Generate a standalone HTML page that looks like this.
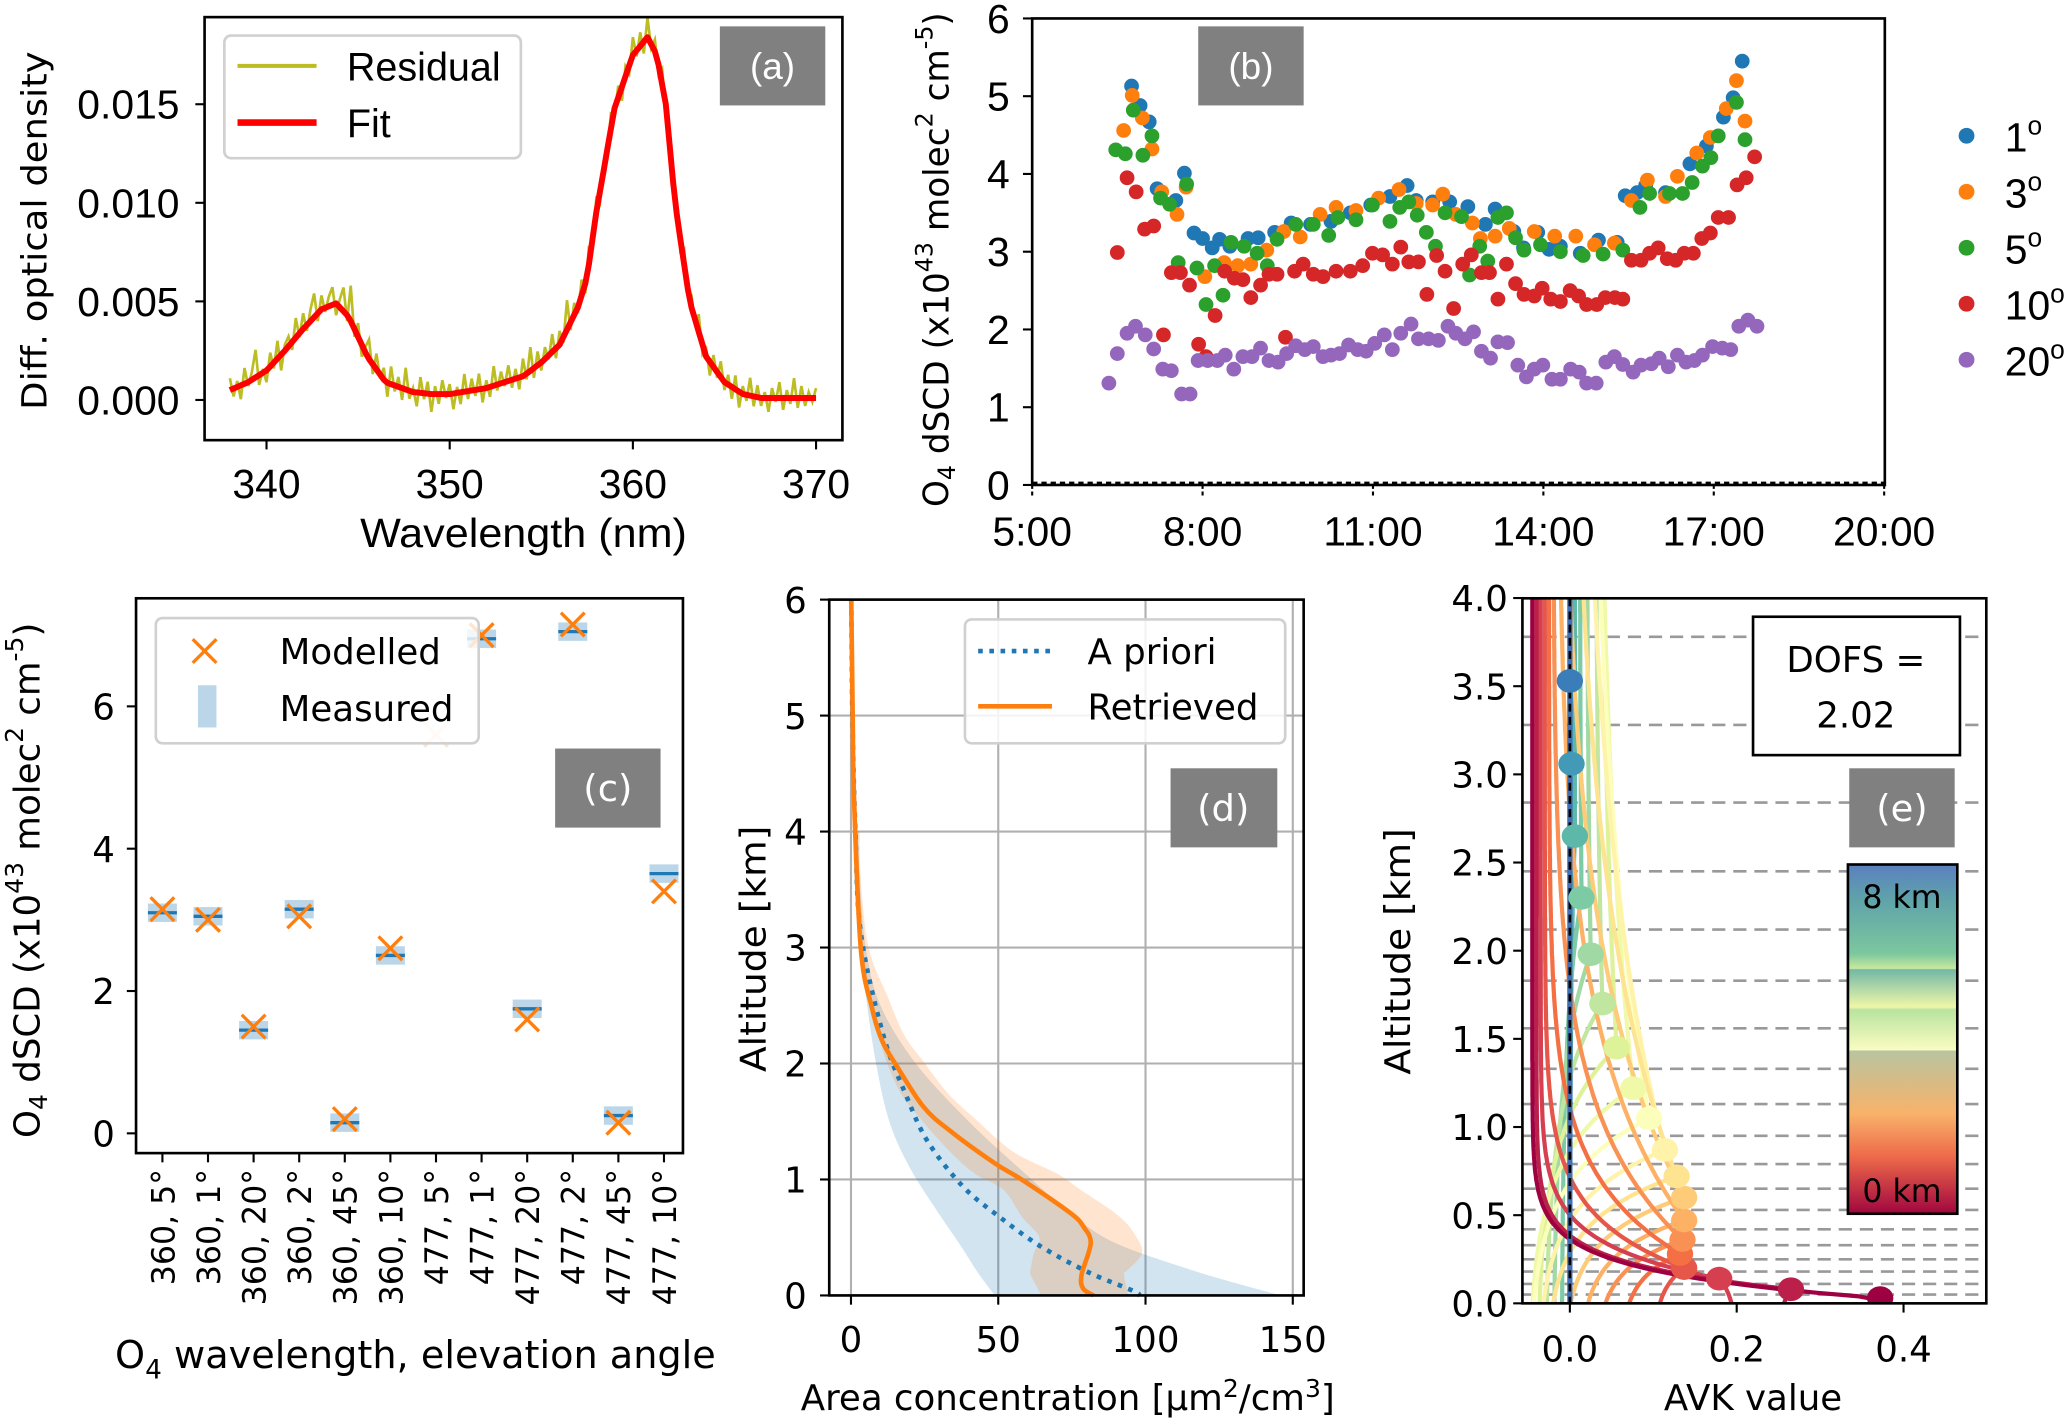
<!DOCTYPE html>
<html><head><meta charset="utf-8">
<style>
html,body{margin:0;padding:0;background:#fff;}
svg{display:block;}
text{font-family:"DejaVu Sans",sans-serif;fill:#000;}
.n{font-family:"Liberation Sans",sans-serif;}
.lab{fill:#fff;font-size:28px;}
</style></head>
<body>
<svg id="fig" width="2067" height="1418" viewBox="0 0 1568 1076" xmlns="http://www.w3.org/2000/svg">
<rect x="0" y="0" width="1568" height="1076" fill="#fff"/>

<!-- Panel A -->
<g id="pa">
  <g id="pa-data"></g>
  <rect x="155" y="13" width="484" height="321" fill="none" stroke="#000" stroke-width="2"/>
  <g id="pa-ticks"></g>
  <text x="28" y="175" transform="rotate(-90 28 175)" text-anchor="middle" dominant-baseline="middle" font-size="26" textLength="272" lengthAdjust="spacingAndGlyphs">Diff. optical density</text>
  <text class="n" x="397" y="415" text-anchor="middle" font-size="31" textLength="248" lengthAdjust="spacingAndGlyphs">Wavelength (nm)</text>
  <g>
    <rect x="170" y="27" width="225" height="93" rx="5" fill="#fff" stroke="#d0d0d0" stroke-width="2"/>
    <line x1="180" y1="50" x2="240" y2="50" stroke="#bcbd22" stroke-width="3"/>
    <text class="n" x="263" y="61" font-size="30">Residual</text>
    <line x1="180" y1="93" x2="240" y2="93" stroke="#ff0000" stroke-width="5"/>
    <text class="n" x="263" y="104" font-size="30">Fit</text>
  </g>
  <rect x="546" y="20" width="80" height="60" fill="#808080"/>
  <text class="lab n" x="586" y="60" text-anchor="middle">(a)</text>
</g>

<!-- Panel B -->
<g id="pb">
  <g id="pb-data"></g>
  <rect x="783" y="14" width="647" height="354" fill="none" stroke="#000" stroke-width="2"/>
  <g id="pb-ticks"></g>
  <text transform="translate(712 197) rotate(-90)" text-anchor="middle" dominant-baseline="middle" font-size="26">O<tspan font-size="18" dy="7">4</tspan><tspan dy="-7"> dSCD (x10</tspan><tspan font-size="18" dy="-10">43</tspan><tspan dy="10"> molec</tspan><tspan font-size="18" dy="-10">2</tspan><tspan dy="10"> cm</tspan><tspan font-size="18" dy="-10">-5</tspan><tspan dy="10">)</tspan></text>
  <rect x="909" y="20" width="80" height="60" fill="#808080"/>
  <text class="lab n" x="949" y="60" text-anchor="middle">(b)</text>
  <g id="pb-legend"></g>
</g>

<!-- Panel C -->
<g id="pc">
  <g id="pc-data"></g>
  <rect x="103" y="454" width="415" height="421" fill="none" stroke="#000" stroke-width="2"/>
  <g id="pc-ticks"></g>
  <text transform="translate(22 668) rotate(-90)" text-anchor="middle" dominant-baseline="middle" font-size="27">O<tspan font-size="19" dy="8">4</tspan><tspan dy="-8"> dSCD (x10</tspan><tspan font-size="19" dy="-10">43</tspan><tspan dy="10"> molec</tspan><tspan font-size="19" dy="-10">2</tspan><tspan dy="10"> cm</tspan><tspan font-size="19" dy="-10">-5</tspan><tspan dy="10">)</tspan></text>
  <text x="315" y="1038" text-anchor="middle" font-size="29">O<tspan font-size="20" dy="8">4</tspan><tspan dy="-8"> wavelength, elevation angle</tspan></text>
  <g>
    <rect x="118" y="469" width="245" height="95" rx="5" fill="#fff" fill-opacity="0.8" stroke="#d0d0d0" stroke-width="2"/>
    <path d="M146 485 L164 503 M164 485 L146 503" stroke="#ff7f0e" stroke-width="2.5"/>
    <text x="212" y="504" font-size="27">Modelled</text>
    <rect x="150" y="520" width="14" height="32" fill="#1f77b4" fill-opacity="0.3"/>
    <text x="212" y="547" font-size="27">Measured</text>
  </g>
  <rect x="421" y="568" width="80" height="60" fill="#808080"/>
  <text class="lab" x="461" y="608" text-anchor="middle">(c)</text>
</g>

<!-- Panel D -->
<g id="pd">
  <g id="pd-data"></g>
  <rect x="629" y="455" width="360" height="528" fill="none" stroke="#000" stroke-width="2"/>
  <g id="pd-ticks"></g>
  <text transform="translate(573 720) rotate(-90)" text-anchor="middle" dominant-baseline="middle" font-size="27" textLength="187" lengthAdjust="spacingAndGlyphs">Altitude [km]</text>
  <text x="810" y="1070" text-anchor="middle" font-size="27">Area concentration [μm<tspan font-size="19" dy="-10">2</tspan><tspan dy="10">/cm</tspan><tspan font-size="19" dy="-10">3</tspan><tspan dy="10">]</tspan></text>
  <g>
    <rect x="732" y="470" width="243" height="94" rx="5" fill="#fff" fill-opacity="0.85" stroke="#d0d0d0" stroke-width="2"/>
    <line x1="742" y1="494" x2="798" y2="494" stroke="#1f77b4" stroke-width="3.5" stroke-dasharray="3.5,5"/>
    <text x="825" y="504" font-size="27">A priori</text>
    <line x1="742" y1="536" x2="798" y2="536" stroke="#ff7f0e" stroke-width="3.5"/>
    <text x="825" y="546" font-size="27">Retrieved</text>
  </g>
  <rect x="888" y="583" width="81" height="60" fill="#808080"/>
  <text class="lab" x="928" y="623" text-anchor="middle">(d)</text>
</g>

<!-- Panel E -->
<g id="pe">
  <defs>
    <clipPath id="clipE"><rect x="1155" y="454" width="352" height="535"/></clipPath>
    <linearGradient id="cbar" x1="0" y1="0" x2="0" y2="1">
      <stop offset="0" stop-color="#5b7fc0"/>
      <stop offset="0.10" stop-color="#5fa3aa"/>
      <stop offset="0.255" stop-color="#7cc79e"/>
      <stop offset="0.298" stop-color="#c8e99e"/>
      <stop offset="0.301" stop-color="#72b8a6"/>
      <stop offset="0.408" stop-color="#eff7a8"/>
      <stop offset="0.416" stop-color="#b9e3a0"/>
      <stop offset="0.531" stop-color="#fafcc0"/>
      <stop offset="0.534" stop-color="#b8c4a0"/>
      <stop offset="0.714" stop-color="#f8b26a"/>
      <stop offset="0.836" stop-color="#ee6a4a"/>
      <stop offset="1" stop-color="#a0063f"/>
    </linearGradient>
  </defs>
  <g id="pe-data" clip-path="url(#clipE)"></g>
  <rect x="1155" y="454" width="352" height="535" fill="none" stroke="#000" stroke-width="2"/>
  <g id="pe-ticks"></g>
  <text transform="translate(1062 722) rotate(-90)" text-anchor="middle" dominant-baseline="middle" font-size="27" textLength="187" lengthAdjust="spacingAndGlyphs">Altitude [km]</text>
  <text x="1330" y="1070" text-anchor="middle" font-size="27">AVK value</text>
  <rect x="1330" y="468" width="157" height="105" fill="#fff" stroke="#000" stroke-width="2"/>
  <text x="1408" y="510" text-anchor="middle" font-size="27">DOFS =</text>
  <text x="1408" y="552" text-anchor="middle" font-size="27">2.02</text>
  <rect x="1403" y="583" width="80" height="60" fill="#808080"/>
  <text class="lab" x="1443" y="623" text-anchor="middle">(e)</text>
  <rect x="1402" y="656" width="83" height="265" fill="url(#cbar)" stroke="#000" stroke-width="2"/>
  <text x="1443" y="689" text-anchor="middle" font-size="24">8 km</text>
  <text x="1443" y="912" text-anchor="middle" font-size="24">0 km</text>
</g>
</svg>

<script>
const NS = "http://www.w3.org/2000/svg";
function mk(tag, parent){ const e = document.createElementNS(NS, tag); parent.appendChild(e); return e; }
function at(e, o){ for (const k in o) e.setAttribute(k, o[k]); return e; }

/* ---------- Panel A data ---------- */
const fitWl  = [338,339,340,341,342,343,343.8,344.5,345.5,346.5,348,349,350,352,354,355,356,357,357.5,358,359,360,360.8,361.3,361.8,362.3,363.1,364,365,366,367,368,370];
const fitVal = [0.0005,0.0009,0.0015,0.0025,0.0036,0.0046,0.0049,0.0042,0.0022,0.0009,0.0004,0.0003,0.0003,0.0006,0.0012,0.0019,0.0028,0.0047,0.0062,0.0095,0.0148,0.0175,0.0184,0.0175,0.0150,0.0100,0.0050,0.0022,0.0009,0.0003,0.0001,0.0001,0.0001];
const residStart = 338, residStep = 0.2;
const residOffsetE4 = [6,-4,3,-7,8,-2,4,14,-5,2,-6,7,-3,9,-8,3,5,-4,10,-2,8,-3,6,12,-4,7,-2,5,9,-6,4,12,-3,18,-4,7,-6,3,10,-5,8,-2,6,-7,9,-3,5,-6,11,-4,2,-7,8,-3,6,-9,4,-5,7,-2,5,-8,3,-6,9,-4,6,-3,8,-7,4,-5,10,-3,6,-2,8,-4,5,-6,9,-3,12,-5,7,-4,6,-2,9,-5,7,-3,15,-4,6,-3,8,-5,9,-4,7,-6,4,-5,8,-3,6,-7,5,-4,9,-3,7,-6,10,-2,6,-5,8,-4,7,-3,5,-6,8,-4,6,-3,9,-5,4,-7,6,-3,8,-4,5,-6,7,-8,4,-3,9,-5,6,-4,3,-7,5,-2,8,-6,4,-3,10,-5,6,-4,3,-2,5];
const aXTicks = [340,350,360,370];
const aYTicks = [0,0.005,0.010,0.015];
const aYTickLabels = ["0.000","0.005","0.010","0.015"];

const xA = w => 202 + (w - 340) * 13.9;
const yA = v => 303.5 - v * 14960;
function fitAt(w){
  for (let i = 0; i < fitWl.length - 1; i++){
    if (w >= fitWl[i] && w <= fitWl[i+1]){
      const t = (w - fitWl[i]) / (fitWl[i+1] - fitWl[i]);
      return fitVal[i] + t * (fitVal[i+1] - fitVal[i]);
    }
  }
  return fitVal[fitVal.length - 1];
}
(function(){
  const g = document.getElementById('pa-data');
  let d = "";
  residOffsetE4.forEach((o, i) => {
    const w = residStart + i * residStep;
    if (w > 370.001) return;
    const v = fitAt(w) + o * 1e-4;
    d += (i ? "L" : "M") + xA(w).toFixed(1) + " " + yA(v).toFixed(1);
  });
  const r = at(mk('path', g), {d: d, fill: "none", stroke: "#bcbd22", "stroke-width": 2});
  
  
  let d2 = "";
  for (let w = 338; w <= 370.001; w += 0.2){
    d2 += (d2 ? "L" : "M") + xA(w).toFixed(1) + " " + yA(fitAt(w)).toFixed(1);
  }
  const f = at(mk('path', g), {d: d2, fill: "none", stroke: "#ff0000", "stroke-width": 4.5, "stroke-linejoin": "round"});
  
  

  const t = document.getElementById('pa-ticks');
  aXTicks.forEach(v => {
    const l = at(mk('line', t), {x1: xA(v), x2: xA(v), y1: 334, y2: 341, stroke: "#000", "stroke-width": 1.6});
    
    
    const tx = at(mk('text', t), {x: xA(v), y: 378, "text-anchor": "middle", "font-size": 31, class: "n"});
    tx.textContent = v;
    
    
  });
  aYTicks.forEach((v, i) => {
    const l = at(mk('line', t), {x1: 148, x2: 155, y1: yA(v), y2: yA(v), stroke: "#000", "stroke-width": 1.6});
    
    
    const tx = at(mk('text', t), {x: 136, y: yA(v) + 11, "text-anchor": "end", "font-size": 31, class: "n"});
    tx.textContent = aYTickLabels[i];
    
    
  });
})();

/* ---------- Panel B data ([hour, value]) ---------- */
const s1deg = [[6.75,5.13],[6.9,4.88],[7.06,4.67],[7.2,3.81],[7.53,3.66],[7.68,4.01],[7.85,3.24],[8.0,3.17],[8.17,3.05],[8.3,3.16],[8.48,3.07],[8.8,3.17],[8.98,3.18],[9.27,3.25],[9.56,3.37],[9.9,3.35],[10.26,3.39],[10.6,3.5],[10.96,3.6],[11.3,3.71],[11.6,3.85],[11.76,3.66],[12.05,3.64],[12.35,3.64],[12.67,3.58],[12.98,3.35],[13.15,3.55],[13.48,3.26],[13.65,3.05],[13.9,3.25],[14.1,3.03],[14.3,3.07],[14.65,2.98],[14.97,3.15],[15.3,3.12],[15.44,3.72],[15.65,3.76],[15.8,3.85],[16.15,3.76],[16.58,4.13],[16.87,4.36],[17.17,4.73],[17.34,4.98],[17.5,5.45]];
const s3deg = [[6.61,4.56],[6.76,5.01],[6.94,4.72],[7.11,4.32],[7.28,3.77],[7.55,3.48],[7.71,3.83],[8.04,2.68],[8.38,2.86],[8.62,2.82],[8.85,2.84],[9.13,3.02],[9.43,3.26],[9.72,3.19],[10.07,3.48],[10.35,3.57],[10.7,3.53],[11.1,3.69],[11.46,3.8],[11.76,3.62],[12.05,3.6],[12.23,3.74],[12.46,3.48],[12.75,3.37],[12.89,3.17],[13.15,3.2],[13.4,3.3],[13.84,3.26],[14.2,3.2],[14.57,3.2],[14.9,3.09],[15.25,3.11],[15.55,3.66],[15.83,3.92],[16.15,3.71],[16.36,3.97],[16.7,4.27],[16.94,4.47],[17.22,4.84],[17.4,5.2],[17.55,4.68]];
const s5deg = [[6.47,4.31],[6.64,4.26],[6.78,4.82],[6.95,4.24],[7.11,4.49],[7.26,3.69],[7.42,3.61],[7.57,2.86],[7.72,3.87],[7.9,2.79],[8.06,2.32],[8.21,2.82],[8.36,2.44],[8.5,3.12],[8.73,3.07],[8.96,2.98],[9.14,2.82],[9.31,3.16],[9.64,3.35],[9.95,3.35],[10.22,3.21],[10.38,3.44],[10.7,3.41],[10.99,3.6],[11.3,3.39],[11.47,3.57],[11.63,3.64],[11.78,3.47],[11.94,3.25],[12.1,3.07],[12.27,3.5],[12.56,3.45],[12.7,2.7],[12.88,3.07],[13.02,2.88],[13.2,3.44],[13.35,3.5],[13.51,3.18],[13.66,3.02],[13.95,3.09],[14.3,3.0],[14.7,2.95],[15.05,2.97],[15.4,3.02],[15.7,3.57],[15.87,3.75],[16.22,3.75],[16.45,3.75],[16.62,3.89],[16.8,4.1],[16.95,4.21],[17.08,4.49],[17.4,4.92],[17.55,4.44]];
const s10deg = [[6.5,2.99],[6.67,3.95],[6.83,3.77],[6.98,3.29],[7.14,3.33],[7.31,1.93],[7.45,2.73],[7.61,2.73],[7.77,2.57],[7.93,1.81],[8.06,1.65],[8.22,2.18],[8.39,2.75],[8.56,2.66],[8.71,2.64],[8.85,2.41],[9.02,2.57],[9.17,2.71],[9.31,2.71],[9.46,1.9],[9.62,2.75],[9.77,2.84],[9.95,2.71],[10.12,2.68],[10.35,2.75],[10.6,2.75],[10.82,2.82],[10.99,2.98],[11.17,2.96],[11.34,2.84],[11.49,3.06],[11.63,2.87],[11.8,2.87],[11.95,2.45],[12.12,2.95],[12.27,2.75],[12.42,2.27],[12.58,2.84],[12.73,2.96],[12.91,2.73],[13.05,2.73],[13.2,2.39],[13.35,2.84],[13.51,2.59],[13.66,2.45],[13.84,2.43],[13.98,2.53],[14.13,2.39],[14.3,2.36],[14.47,2.5],[14.62,2.43],[14.76,2.32],[14.94,2.32],[15.09,2.41],[15.26,2.41],[15.4,2.39],[15.55,2.89],[15.72,2.89],[15.87,2.98],[16.02,3.05],[16.18,2.91],[16.33,2.89],[16.48,2.98],[16.64,2.98],[16.79,3.17],[16.94,3.24],[17.08,3.44],[17.26,3.44],[17.41,3.86],[17.57,3.95],[17.72,4.22]];
const s20deg = [[6.35,1.31],[6.5,1.69],[6.67,1.95],[6.82,2.04],[6.99,1.93],[7.14,1.75],[7.3,1.49],[7.45,1.47],[7.63,1.17],[7.78,1.17],[7.92,1.6],[8.09,1.6],[8.26,1.6],[8.4,1.67],[8.55,1.49],[8.71,1.65],[8.87,1.65],[9.02,1.76],[9.17,1.6],[9.33,1.58],[9.48,1.69],[9.64,1.79],[9.8,1.74],[9.95,1.78],[10.12,1.65],[10.26,1.67],[10.41,1.69],[10.57,1.8],[10.73,1.74],[10.88,1.72],[11.03,1.82],[11.2,1.93],[11.34,1.74],[11.49,1.95],[11.67,2.07],[11.8,1.88],[11.98,1.88],[12.15,1.86],[12.32,2.04],[12.46,1.95],[12.62,1.88],[12.77,1.97],[12.91,1.72],[13.07,1.63],[13.2,1.84],[13.37,1.83],[13.55,1.54],[13.7,1.39],[13.84,1.49],[13.99,1.54],[14.15,1.36],[14.3,1.36],[14.48,1.49],[14.63,1.45],[14.76,1.31],[14.93,1.31],[15.1,1.58],[15.25,1.65],[15.4,1.55],[15.58,1.45],[15.72,1.54],[15.9,1.56],[16.04,1.63],[16.2,1.52],[16.36,1.67],[16.51,1.58],[16.66,1.6],[16.8,1.67],[16.98,1.78],[17.15,1.76],[17.3,1.74],[17.44,2.04],[17.6,2.12],[17.76,2.04]];
const bSeriesNames = ["1°","3°","5°","10°","20°"];
const bXTicks = [5,8,11,14,17,20];
const bXTickLabels = ["5:00","8:00","11:00","14:00","17:00","20:00"];
const bYTicks = [0,1,2,3,4,5,6];

const xB = h => 783 + (h - 5) * 43.1;
const yB = v => 368 - v * 59;
(function(){
  const g = document.getElementById('pb-data');
  const series = [s1deg, s3deg, s5deg, s10deg, s20deg];
  const cols = ["#1f77b4","#ff7f0e","#2ca02c","#d62728","#9467bd"];
  const z = at(mk('line', g), {x1: 783, x2: 1430, y1: yB(0) - 1.5, y2: yB(0) - 1.5, stroke: "#000", "stroke-width": 2, "stroke-dasharray": "4,3"});
  
  
  series.forEach((s, si) => {
    const sg = mk('g', g);
    
    
    s.forEach(p => {
      const c = at(mk('circle', sg), {cx: xB(p[0]).toFixed(1), cy: yB(p[1]).toFixed(1), r: 5.6, fill: cols[si]});
      
      
    });
  });
  const t = document.getElementById('pb-ticks');
  bXTicks.forEach((v, i) => {
    const l = at(mk('line', t), {x1: xB(v), x2: xB(v), y1: 368, y2: 376, stroke: "#000", "stroke-width": 1.6, "stroke-dasharray": "3,2"});
    
    
    const tx = at(mk('text', t), {x: xB(v), y: 414, "text-anchor": "middle", "font-size": 31, class: "n"});
    tx.textContent = bXTickLabels[i];
    
    
  });
  bYTicks.forEach(v => {
    const l = at(mk('line', t), {x1: 776, x2: 783, y1: yB(v), y2: yB(v), stroke: "#000", "stroke-width": 1.6});
    
    
    const tx = at(mk('text', t), {x: 766, y: yB(v) + 11, "text-anchor": "end", "font-size": 31, class: "n"});
    tx.textContent = v;
    
    
  });
  const lg = document.getElementById('pb-legend');
  bSeriesNames.forEach((nm, i) => {
    const y = 103 + i * 42.5;
    const c = at(mk('circle', lg), {cx: 1492, cy: y, r: 6, fill: cols[i]});
    
    
    const tx = at(mk('text', lg), {x: 1521, y: y + 12, "font-size": 31, class: "n"});
    tx.textContent = nm.replace('°','');
    const sup = at(mk('tspan', tx), {dy: -13, "font-size": 20});
    sup.textContent = "o";
    
    
  });
})();

/* ---------- Panel C data ---------- */
const cCategories = ["360, 5°","360, 1°","360, 20°","360, 2°","360, 45°","360, 10°","477, 5°","477, 1°","477, 20°","477, 2°","477, 45°","477, 10°"];
const cMeasured  = [3.1,3.05,1.45,3.15,0.15,2.5,null,6.95,1.75,7.05,0.25,3.65];
const cModelled  = [3.15,3.0,1.5,3.05,0.2,2.6,5.6,7.0,1.6,7.15,0.15,3.4];
const cYTicks = [0,2,4,6];

const xC = i => 123 + i * 34.6;
const yC = v => 860 - v * 54;
(function(){
  const g = document.getElementById('pc-data');
  cCategories.forEach((cat, i) => {
    if (cMeasured[i] !== null){
      const r = at(mk('rect', g), {x: xC(i) - 11, y: yC(cMeasured[i]) - 7, width: 22, height: 14, fill: "#1f77b4", "fill-opacity": 0.3});
      
      
      const l = at(mk('line', g), {x1: xC(i) - 11, x2: xC(i) + 11, y1: yC(cMeasured[i]), y2: yC(cMeasured[i]), stroke: "#1f77b4", "stroke-width": 2.5});
      
      
    }
    const x = xC(i), y = yC(cModelled[i]);
    const m = at(mk('path', g), {d: `M${x-9} ${y-9} L${x+9} ${y+9} M${x+9} ${y-9} L${x-9} ${y+9}`, stroke: "#ff7f0e", "stroke-width": 2.5, "stroke-opacity": cMeasured[i] === null ? 0.2 : 1});
    
    
  });
  const t = document.getElementById('pc-ticks');
  cCategories.forEach((cat, i) => {
    const l = at(mk('line', t), {x1: xC(i), x2: xC(i), y1: 875, y2: 882, stroke: "#000", "stroke-width": 1.6});
    
    
    const tx = at(mk('text', t), {transform: `translate(${xC(i) + 9} 887) rotate(-90)`, "text-anchor": "end", "font-size": 24});
    tx.textContent = cat;
    
    
  });
  cYTicks.forEach(v => {
    const l = at(mk('line', t), {x1: 96, x2: 103, y1: yC(v), y2: yC(v), stroke: "#000", "stroke-width": 1.6});
    
    
    const tx = at(mk('text', t), {x: 87, y: yC(v) + 10, "text-anchor": "end", "font-size": 27});
    tx.textContent = v;
    
    
  });
})();

/* ---------- Panel D data ---------- */
const dRetAlt = [6,5,4.33,3,2.48,2.2,1.98,1.63,1.42,1.14,1.0,0.71,0.59,0.45,0.18,0.06,0];
const dRetVal = [0.1,0.6,1,3.3,7.1,10.5,15.5,24.5,33.6,48.8,57.9,74.5,79,81.4,78.3,78.8,82.4];
const dApAlt  = [6,5,4,3.13,2.25,1.74,1.33,0.94,0.68,0.43,0.2,0.04,0];
const dApVal  = [0.1,0.5,1.5,3.3,10.9,18.5,26,38,50.3,64,80.6,95.8,98];
const dApBandAlt = [4,3.6,3,2.5,2,1.5,1.1,0.7,0.45,0.2,0];
const dApBandLo  = [1.5,1.8,3,5.5,8.5,13,20,30,36.7,43,48.8];
const dApBandHi  = [2.5,3,5,10,22,40,57,75,90,118,146];
const dRetBandAlt = [4,3.6,3,2.58,2.25,2.02,1.74,1.51,1.24,1.05,0.91,0.68,0.5,0.36,0.22,0.18,0];
const dRetBandLo  = [1.8,1.8,4,6,9.4,12,17,24,33.6,42,51.8,58,64,62,61,61,64.7];
const dRetBandHi  = [3,3.3,6,12.4,18,24.5,33,42.7,55,70,78,91.2,97,98.8,94,92.7,94.2];
const dXTicks = [0,50,100,150];
const dYTicks = [0,1,2,3,4,5,6];

const xD = v => 645.5 + v * 2.235;
const yD = z => 983 - z * 88;
function smoothPath(pts){
  let d = "M" + pts[0][0].toFixed(1) + " " + pts[0][1].toFixed(1);
  for (let i = 0; i < pts.length - 1; i++){
    const p0 = pts[Math.max(0, i-1)], p1 = pts[i], p2 = pts[i+1], p3 = pts[Math.min(pts.length-1, i+2)];
    const c1 = [p1[0] + (p2[0]-p0[0])/6, p1[1] + (p2[1]-p0[1])/6];
    const c2 = [p2[0] - (p3[0]-p1[0])/6, p2[1] - (p3[1]-p1[1])/6];
    d += "C" + c1.map(v=>v.toFixed(1)).join(" ") + " " + c2.map(v=>v.toFixed(1)).join(" ") + " " + p2[0].toFixed(1) + " " + p2[1].toFixed(1);
  }
  return d;
}
(function(){
  const g = document.getElementById('pd-data');
  const t = document.getElementById('pd-ticks');
  dXTicks.forEach(v => {
    const l = at(mk('line', g), {x1: xD(v), x2: xD(v), y1: 455, y2: 983, stroke: "#b0b0b0", "stroke-width": 1.6});
    
    
  });
  dYTicks.forEach(v => {
    const l = at(mk('line', g), {x1: 629, x2: 989, y1: yD(v), y2: yD(v), stroke: "#b0b0b0", "stroke-width": 1.6});
    
    
  });
  function band(alts, lo, hi, col, name){
    const left = alts.map((a, i) => [xD(lo[i]), yD(a)]);
    const right = alts.map((a, i) => [xD(hi[i]), yD(a)]).reverse();
    let d = smoothPath(left) + "L" + smoothPath(right).slice(1);
    const p = at(mk('path', g), {d: d + "Z", fill: col, "fill-opacity": 0.2, stroke: "none"});
    
    
  }
  band(dApBandAlt, dApBandLo, dApBandHi, "#1f77b4", 'apriori-uncertainty-band');
  band(dRetBandAlt, dRetBandLo, dRetBandHi, "#ff7f0e", 'retrieved-uncertainty-band');
  const ap = at(mk('path', g), {d: smoothPath(dApAlt.map((a, i) => [xD(dApVal[i]), yD(a)])), fill: "none", stroke: "#1f77b4", "stroke-width": 3.5, "stroke-dasharray": "3.5,5"});
  
  
  const rt = at(mk('path', g), {d: smoothPath(dRetAlt.map((a, i) => [xD(dRetVal[i]), yD(a)])), fill: "none", stroke: "#ff7f0e", "stroke-width": 3.5, "stroke-linejoin": "round"});
  
  
  dXTicks.forEach(v => {
    const l = at(mk('line', t), {x1: xD(v), x2: xD(v), y1: 983, y2: 990, stroke: "#000", "stroke-width": 1.6});
    
    
    const tx = at(mk('text', t), {x: xD(v), y: 1026, "text-anchor": "middle", "font-size": 27});
    tx.textContent = v;
    
    
  });
  dYTicks.forEach(v => {
    const l = at(mk('line', t), {x1: 622, x2: 629, y1: yD(v), y2: yD(v), stroke: "#000", "stroke-width": 1.6});
    
    
    const tx = at(mk('text', t), {x: 612, y: yD(v) + 10, "text-anchor": "end", "font-size": 27});
    tx.textContent = v;
    
    
  });
})();

/* ---------- Panel E data ---------- */
const eLayerAlt = [0.03,0.08,0.14,0.2,0.28,0.36,0.47,0.6,0.72,0.87,1.05,1.22,1.45,1.7,1.98,2.3,2.65,3.06,3.53];
const ePeakVal  = [0.372,0.265,0.179,0.137,0.132,0.135,0.137,0.137,0.128,0.114,0.095,0.076,0.056,0.039,0.025,0.014,0.006,0.002,0.0];
const eTopVal   = [-0.045,-0.04,-0.035,-0.03,-0.025,-0.02,-0.015,-0.01,0.0,0.01,0.02,0.03,0.035,0.03,0.02,0.012,0.006,0.002,0.0];
const eBotVal   = [0.34,0.25,0.2,0.1,0.06,0.03,0.01,-0.01,-0.03,-0.04,-0.05,-0.05,-0.04,-0.03,-0.02,-0.01,0,0,0];
const eUpScale  = [0.15,0.15,0.2,0.3,0.45,0.7,1.0,1.3,1.6,1.9,2.0,2.0,1.8,1.5,1.3,1.0,1.0,1.0,1.0];
const eGridAlt  = [3.78,3.28,2.84,2.45,2.12,1.83,1.56,1.33,1.13,0.95,0.79,0.65,0.53,0.42,0.33,0.25,0.18,0.11,0.05];
const eXTicks = [0.0,0.2,0.4];
const eYTicks = [0,0.5,1,1.5,2,2.5,3,3.5,4];

const xE = v => 1191 + v * 633;
const yE = z => 989 - z * 133.8;
const spectral = ["#9e0142","#d53e4f","#f46d43","#fdae61","#fee08b","#ffffbf","#e6f598","#abdda4","#66c2a5","#3288bd","#5e4fa2"];
function hex2rgb(h){ return [parseInt(h.substr(1,2),16), parseInt(h.substr(3,2),16), parseInt(h.substr(5,2),16)]; }
function cmap(f){
  const p = Math.max(0, Math.min(1, f)) * (spectral.length - 1);
  const i = Math.min(Math.floor(p), spectral.length - 2), t = p - i;
  const a = hex2rgb(spectral[i]), b = hex2rgb(spectral[i+1]);
  return "rgb(" + a.map((v, k) => Math.round(v + t * (b[k] - v))).join(",") + ")";
}
(function(){
  const g = document.getElementById('pe-data');
  eGridAlt.forEach(a => {
    const l = at(mk('line', g), {x1: 1155, x2: 1507, y1: yE(a), y2: yE(a), stroke: "#999", "stroke-width": 2, "stroke-dasharray": "10,6"});
    
    
  });
  const n = eLayerAlt.length;
  const cols = eLayerAlt.map((a, k) => cmap(k / (n - 1) * 0.92));
  for (let k = n - 1; k >= 0; k--){
    const zk = eLayerAlt[k], p = ePeakVal[k], top = eTopVal[k], bot = eBotVal[k];
    const wu = eUpScale[k], wd = 0.08 + zk * 0.25;
    let d = "";
    for (let z = 0; z <= 4.001; z += 0.02){
      const v = z >= zk ? top + (p - top) * Math.exp(-(z - zk) / wu) : bot + (p - bot) * Math.exp(-(zk - z) / wd);
      d += (d ? "L" : "M") + xE(v).toFixed(1) + " " + yE(z).toFixed(1);
    }
    const c = at(mk('path', g), {d: d, fill: "none", stroke: cols[k], "stroke-width": 3.2});
    
    
  }
  const vb = at(mk('line', g), {x1: xE(0), x2: xE(0), y1: 454, y2: 989, stroke: "#3f6fb5", "stroke-width": 4});
  
  
  const vd = at(mk('line', g), {x1: xE(0), x2: xE(0), y1: 454, y2: 989, stroke: "#000", "stroke-width": 2, "stroke-dasharray": "6,4"});
  
  
  for (let k = 0; k < n; k++){
    const c = at(mk('ellipse', g), {cx: xE(ePeakVal[k]), cy: yE(eLayerAlt[k]), rx: 10, ry: 9, fill: cols[k]});
    
    
  }
  const t = document.getElementById('pe-ticks');
  eXTicks.forEach(v => {
    const l = at(mk('line', t), {x1: xE(v), x2: xE(v), y1: 989, y2: 996, stroke: "#000", "stroke-width": 1.6});
    
    
    const tx = at(mk('text', t), {x: xE(v), y: 1033, "text-anchor": "middle", "font-size": 27});
    tx.textContent = v.toFixed(1);
    
    
  });
  eYTicks.forEach(v => {
    const l = at(mk('line', t), {x1: 1148, x2: 1155, y1: yE(v), y2: yE(v), stroke: "#000", "stroke-width": 1.6});
    
    
    const tx = at(mk('text', t), {x: 1144, y: yE(v) + 10, "text-anchor": "end", "font-size": 27});
    tx.textContent = v.toFixed(1);
    
    
  });
})();
</script>
</body></html>
